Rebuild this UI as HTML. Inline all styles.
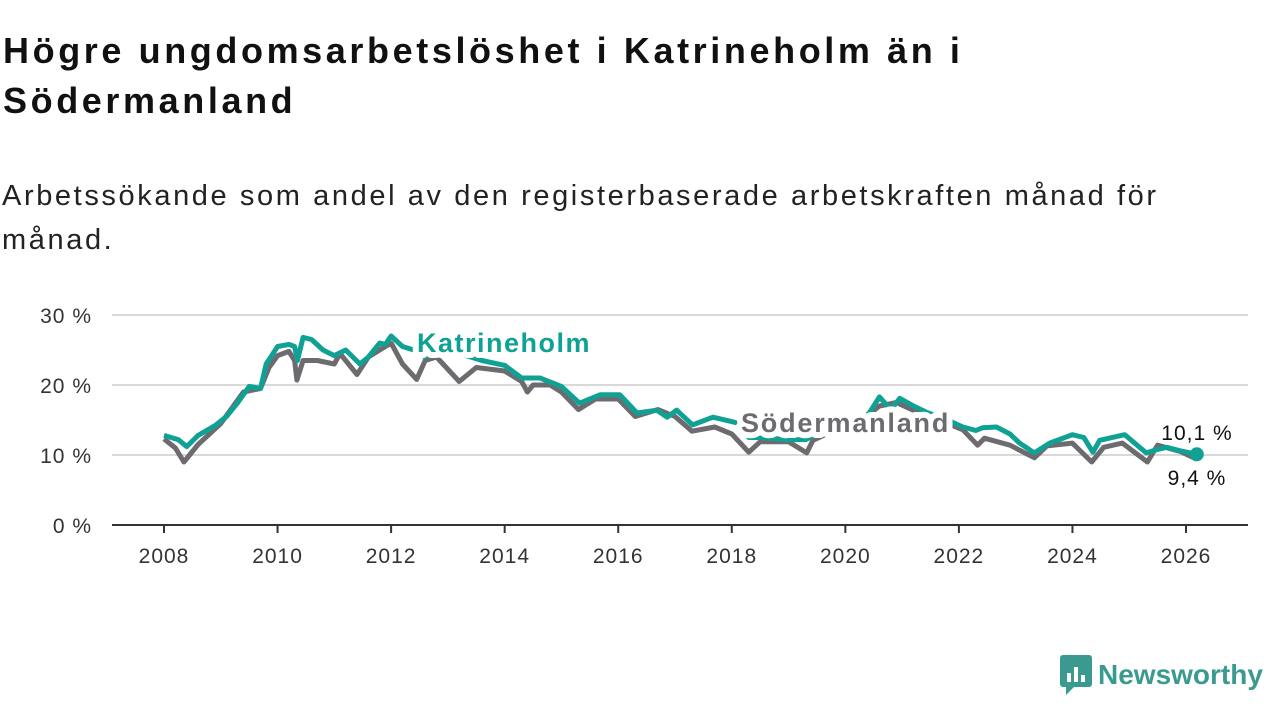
<!DOCTYPE html>
<html><head><meta charset="utf-8"><style>
body{margin:0;width:1280px;height:720px;background:#fff;font-family:"Liberation Sans",sans-serif;overflow:hidden;position:relative}
h1{position:absolute;left:3px;top:26px;margin:0;font-size:36px;line-height:50px;font-weight:bold;color:#111;width:1000px;letter-spacing:3.6px}
.sub{position:absolute;left:2px;top:174px;margin:0;font-size:29px;line-height:44px;color:#222;width:1190px;letter-spacing:2.6px}
</style></head><body>
<h1>Högre ungdomsarbetslöshet i Katrineholm än i Södermanland</h1>
<p class="sub">Arbetssökande som andel av den registerbaserade arbetskraften månad för månad.</p>
<svg id="chart" width="1280" height="720" style="position:absolute;left:0;top:0"></svg>
<div style="position:absolute;left:1060px;top:655px;display:flex;align-items:center;gap:6px">
<svg width="32" height="40"><rect x="0" y="0" width="32" height="32" rx="3" fill="#3a9a8f"/><path d="M6 32 L6 40 L14 32Z" fill="#3a9a8f"/><rect x="7" y="18" width="4" height="9" fill="#fff"/><rect x="14" y="12" width="4" height="15" fill="#fff"/><rect x="21" y="20" width="4" height="7" fill="#fff"/></svg>
<span style="font-size:28px;font-weight:bold;color:#3a9a8f">Newsworthy</span></div>
<script>
const xTicks=[2008,2010,2012,2014,2016,2018,2020,2022,2024,2026];
const yTicks=[0,10,20,30];
const katYears=[2008.0,2008.25,2008.4,2008.6,2008.9,2009.1,2009.3,2009.5,2009.7,2009.8,2010.0,2010.2,2010.3,2010.35,2010.45,2010.6,2010.8,2011.0,2011.2,2011.45,2011.6,2011.8,2011.9,2012.0,2012.2,2012.4,2012.6,2012.9,2013.2,2013.6,2014.0,2014.3,2014.62,2015.0,2015.32,2015.68,2016.03,2016.33,2016.68,2016.86,2017.03,2017.31,2017.67,2018.09,2018.3,2018.5,2019.0,2019.3,2019.5,2019.9,2020.3,2020.43,2020.6,2020.8,2020.96,2021.2,2021.43,2021.8,2022.07,2022.3,2022.42,2022.66,2022.9,2023.07,2023.33,2023.6,2024.0,2024.2,2024.36,2024.48,2024.92,2025.3,2025.5,2025.66,2025.9,2026.19];
const katVals=[12.8,12.2,11.2,12.8,14.2,15.5,17.5,19.8,19.5,23,25.5,25.8,25.5,23.5,26.8,26.5,25,24.2,25,23,24,26,25.8,27,25.5,25,24,25,24.5,23.5,22.8,21,21,19.8,17.4,18.6,18.6,16,16.4,15.4,16.4,14.3,15.4,14.6,12.5,12.5,12.2,12.2,13,14,15,16.1,18.3,16.5,18.1,17,16.1,15,14,13.5,13.9,14,13,11.7,10.3,11.7,12.9,12.5,10.4,12.1,12.9,10.3,10.8,11.1,10.6,10.1];
const sodYears=[2008.0,2008.2,2008.35,2008.6,2009.0,2009.4,2009.7,2009.85,2010.0,2010.2,2010.3,2010.34,2010.45,2010.7,2011.0,2011.1,2011.4,2011.6,2011.9,2012.0,2012.2,2012.45,2012.6,2012.8,2013.2,2013.5,2014.0,2014.3,2014.4,2014.5,2014.8,2015.0,2015.3,2015.6,2016.0,2016.3,2016.7,2017.0,2017.3,2017.7,2018.0,2018.3,2018.5,2019.0,2019.32,2019.43,2019.8,2020.3,2020.6,2020.9,2021.3,2021.8,2022.07,2022.33,2022.45,2022.9,2023.33,2023.55,2024.0,2024.34,2024.55,2024.88,2025.32,2025.5,2025.9,2026.19];
const sodVals=[12.3,11,9,11.5,14.5,19,19.5,22.5,24.2,24.8,23.5,20.7,23.5,23.5,23,24.5,21.5,24,25.5,26,23,20.8,23.5,24,20.5,22.5,22,20.5,19,20,20,19,16.5,18,18,15.5,16.5,15.5,13.4,14,13,10.4,11.9,11.9,10.3,12.1,13.5,15,17,17.5,16,14.5,13.6,11.4,12.4,11.4,9.6,11.3,11.7,9,11.1,11.7,9,11.4,10.5,9.4];
const NS="http://www.w3.org/2000/svg";
const svg=document.getElementById('chart');
const x=y=>164+(y-2008)*(1186-164)/18;
const yS=v=>525-v*7;
function el(t,a,p){const e=document.createElementNS(NS,t);for(const k in a)e.setAttribute(k,a[k]);(p||svg).appendChild(e);return e;}
yTicks.forEach(v=>{
 if(v>0){const g=el('line',{x1:112,x2:1248,y1:yS(v),y2:yS(v),stroke:'#d9d9d9','stroke-width':2});
 
 }
 const t=el('text',{x:92,y:yS(v)+8,'text-anchor':'end','font-size':21,fill:'#333','letter-spacing':1,'font-family':'Liberation Sans, sans-serif'});
 t.textContent=v+' %';
 
 
});
const ax=el('line',{x1:112,x2:1248,y1:525,y2:525,stroke:'#333','stroke-width':2});


xTicks.forEach(yr=>{
 const tk=el('line',{x1:x(yr),x2:x(yr),y1:525,y2:533,stroke:'#333','stroke-width':2});
 
 
 const t=el('text',{x:x(yr),y:563,'text-anchor':'middle','font-size':21,fill:'#333','letter-spacing':1,'font-family':'Liberation Sans, sans-serif'});
 t.textContent=yr;
 
 
});
function path(xs,vs){return xs.map((a,i)=>(i?'L':'M')+x(a).toFixed(1)+' '+yS(vs[i]).toFixed(1)).join(' ');}
const ls=el('path',{d:path(sodYears,sodVals),fill:'none',stroke:'#6d6b70','stroke-width':5,'stroke-linejoin':'round'});


const lk=el('path',{d:path(katYears,katVals),fill:'none',stroke:'#0fa294','stroke-width':5,'stroke-linejoin':'round'});


const dk=el('circle',{cx:x(katYears[katYears.length-1]),cy:yS(katVals[katVals.length-1]),r:7,fill:'#0fa294'});


function lab(txt,xx,yy,col,sz,bold,name,anchor,ls){
 const t=el('text',{x:xx,y:yy,'font-size':sz,fill:col,'font-weight':bold?'bold':'normal',stroke:'#fff','stroke-width':bold?12:6,'paint-order':'stroke','stroke-linejoin':'round','text-anchor':anchor||'start','letter-spacing':ls||0,'font-family':'Liberation Sans, sans-serif'});
 t.textContent=txt;
 
 
}
lab('Katrineholm',417,352,'#0fa294',27,true,'label-katrineholm','start',1.5);
lab('Södermanland',741,432,'#6d6b70',27,true,'label-sodermanland','start',1.8);
lab('10,1 %',1197,440,'#111',21,false,'value-label-katrineholm','middle',1);
lab('9,4 %',1197,485,'#111',21,false,'value-label-sodermanland','middle',1);
</script>
</body></html>
